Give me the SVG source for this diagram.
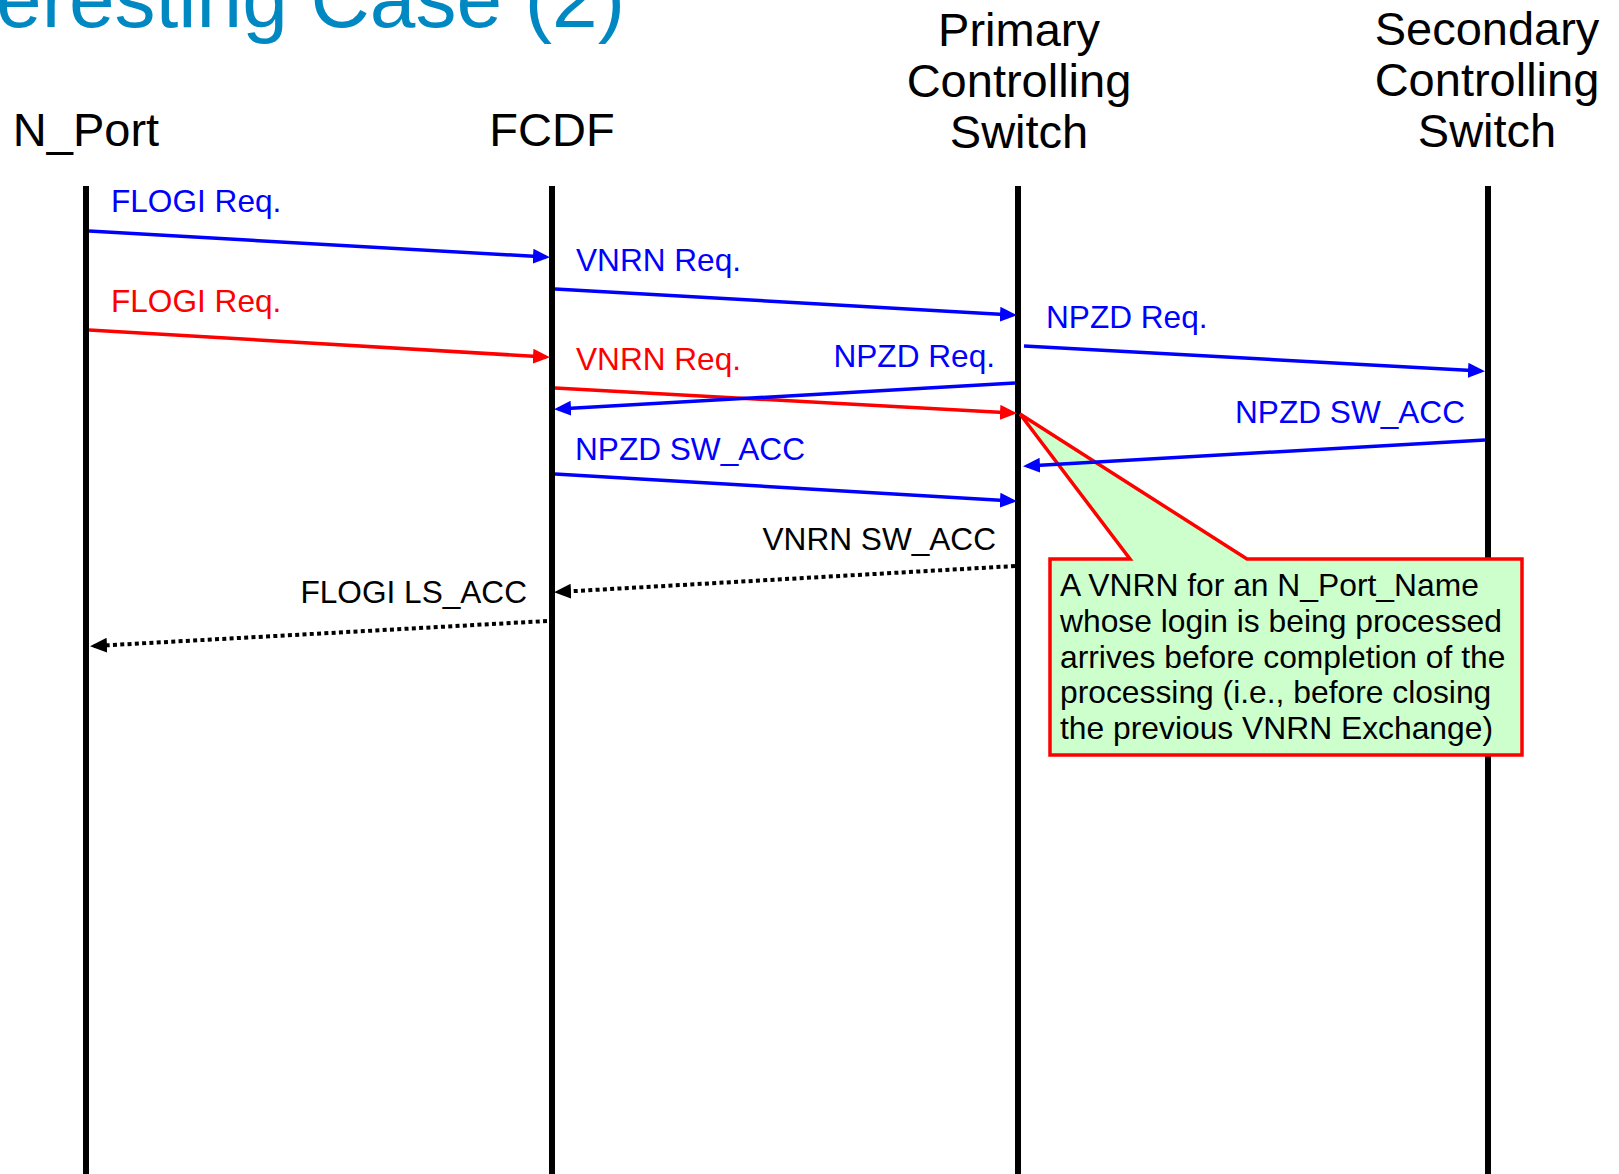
<svg xmlns="http://www.w3.org/2000/svg" width="1619" height="1174" viewBox="0 0 1619 1174">
  <style>
    text { font-family: "Liberation Sans", Arial, sans-serif; }
    .title { font-size: 82px; fill: #0088C2; }
    .head { font-size: 47px; fill: #000; text-anchor: middle; }
    .lbl { font-size: 31.6px; }
    .note { font-size: 31.8px; fill: #000; }
    .blue { fill: #0000FF; }
    .red { fill: #FF0000; }
    .black { fill: #000; }
    .life { stroke: #000; stroke-width: 6; }
    .msg { fill: none; stroke-width: 3.5; }
    .mb { stroke: #0000FF; marker-end: url(#ahBlue); }
    .mr { stroke: #FF0000; marker-end: url(#ahRed); }
    .md { stroke: #000; stroke-width: 4; stroke-dasharray: 4 3.3; marker-end: url(#ahBlack); }
  </style>
  <defs>
    <marker id="ahBlue" markerUnits="userSpaceOnUse" markerWidth="17" markerHeight="15" refX="13" refY="7.5" orient="auto">
      <path d="M0,0 L17,7.5 L0,15 Z" fill="#0000FF"/>
    </marker>
    <marker id="ahRed" markerUnits="userSpaceOnUse" markerWidth="17" markerHeight="15" refX="13" refY="7.5" orient="auto">
      <path d="M0,0 L17,7.5 L0,15 Z" fill="#FF0000"/>
    </marker>
    <marker id="ahBlack" markerUnits="userSpaceOnUse" markerWidth="17" markerHeight="15" refX="13" refY="7.5" orient="auto">
      <path d="M0,0 L17,7.5 L0,15 Z" fill="#000"/>
    </marker>
  </defs>

  <rect width="1619" height="1174" fill="#fff"/>

  <!-- slide title, clipped by the top-left corner -->
  <text class="title" x="625" y="27" text-anchor="end">Interesting Case (2)</text>

  <!-- participants: header plus lifeline -->
  <g id="n_port">
    <text class="head" x="86" y="146">N_Port</text>
    <line class="life" x1="86" y1="186" x2="86" y2="1174"/>
  </g>
  <g id="fcdf">
    <text class="head" x="552" y="146">FCDF</text>
    <line class="life" x1="552" y1="186" x2="552" y2="1174"/>
  </g>
  <g id="primary_switch">
    <text class="head" x="1019" y="46">Primary</text>
    <text class="head" x="1019" y="97">Controlling</text>
    <text class="head" x="1019" y="148">Switch</text>
    <line class="life" x1="1018" y1="186" x2="1018" y2="1174"/>
  </g>
  <g id="secondary_switch">
    <text class="head" x="1487" y="45">Secondary</text>
    <text class="head" x="1487" y="96">Controlling</text>
    <text class="head" x="1487" y="147">Switch</text>
    <line class="life" x1="1488" y1="186" x2="1488" y2="1174"/>
  </g>

  <!-- callout about the overlapping VNRN -->
  <g id="callout">
    <path d="M1050,559 L1130,559 L1020,414 L1247,559 L1522,559 L1522,755 L1050,755 Z" fill="#CCFFCC" stroke="#FF0000" stroke-width="3.5" stroke-linejoin="miter"/>
    <text class="note" x="1060" y="596">A VNRN for an N_Port_Name</text>
    <text class="note" x="1060" y="632">whose login is being processed</text>
    <text class="note" x="1060" y="668">arrives before completion of the</text>
    <text class="note" x="1060" y="703">processing (i.e., before closing</text>
    <text class="note" x="1060" y="739">the previous VNRN Exchange)</text>
  </g>

  <!-- messages -->
  <g id="connectors">
    <line class="msg mb" x1="89" y1="231" x2="546" y2="257"/>
    <line class="msg mb" x1="555" y1="289" x2="1013" y2="315"/>
    <line class="msg mr" x1="89" y1="330" x2="546" y2="357"/>
    <line class="msg mr" x1="555" y1="388" x2="1013" y2="413"/>
    <line class="msg mb" x1="1015" y1="383" x2="558" y2="409"/>
    <line class="msg mb" x1="1024" y1="346" x2="1481" y2="371"/>
    <line class="msg mb" x1="1485" y1="440" x2="1027" y2="466"/>
    <line class="msg mb" x1="555" y1="474" x2="1013" y2="501"/>
    <line class="msg md" x1="1015" y1="566" x2="558" y2="592"/>
    <line class="msg md" x1="547" y1="621" x2="94" y2="646"/>
  </g>

  <!-- message labels -->
  <g id="labels">
    <text class="lbl blue" x="111" y="212">FLOGI Req.</text>
    <text class="lbl blue" x="576" y="271">VNRN Req.</text>
    <text class="lbl red" x="111" y="312">FLOGI Req.</text>
    <text class="lbl red" x="576" y="370">VNRN Req.</text>
    <text class="lbl blue" x="995" y="367" text-anchor="end">NPZD Req.</text>
    <text class="lbl blue" x="1046" y="328">NPZD Req.</text>
    <text class="lbl blue" x="1465" y="423" text-anchor="end">NPZD SW_ACC</text>
    <text class="lbl blue" x="575" y="460">NPZD SW_ACC</text>
    <text class="lbl black" x="996" y="550" text-anchor="end">VNRN SW_ACC</text>
    <text class="lbl black" x="527" y="603" text-anchor="end">FLOGI LS_ACC</text>
  </g>
</svg>
